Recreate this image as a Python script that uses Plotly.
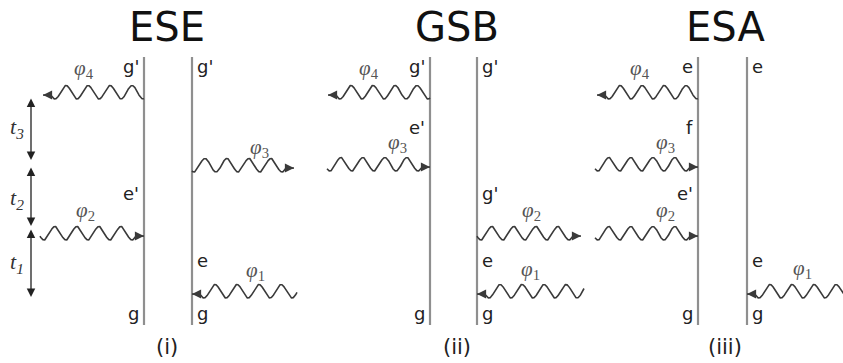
import numpy as np
import plotly.graph_objects as go

# ---------------- data ----------------
panel_titles = ["ESE", "GSB", "ESA"]
panel_captions = ["(i)", "(ii)", "(iii)"]
title_x = [167, 457, 725]
left_line_x = [144, 430, 698]
right_line_x = [192, 477, 747]
line_top = 57
line_bottom = 325

# level labels: (panel, side, y, text)
level_panel = [0, 0, 0, 0, 0, 0,
               1, 1, 1, 1, 1, 1, 1,
               2, 2, 2, 2, 2, 2, 2]
level_side = ["L", "L", "L", "R", "R", "R",
              "L", "L", "L", "R", "R", "R", "R",
              "L", "L", "L", "L", "R", "R", "R"]
level_y = [66, 193, 313, 66, 260, 313,
           66, 127, 313, 66, 193, 260, 313,
           66, 127, 193, 313, 66, 260, 313]
level_text = ["g'", "e'", "g", "g'", "e", "g",
              "g'", "e'", "g", "g'", "g'", "e", "g",
              "e", "f", "e'", "g", "e", "e", "g"]

# photons: panel, side, trough level, free-end x, incoming?, label, label x, label y
ph_panel = [0, 0, 0, 0, 1, 1, 1, 1, 2, 2, 2, 2]
ph_side = ["L", "L", "R", "R", "L", "L", "R", "R", "L", "L", "L", "R"]
ph_y = [99, 240, 172, 298, 99, 171, 240, 298, 99, 171, 240, 298]
ph_x_free = [43, 40, 294, 297, 328, 327, 581, 584, 597, 595, 595, 852]
ph_incoming = [False, True, False, True, False, True, False, True, False, True, True, True]
ph_label = ["4", "2", "3", "1", "4", "3", "2", "1", "4", "3", "2", "1"]
ph_label_x = [84, 85, 259, 255, 369, 397, 531, 530, 640, 665, 665, 802]
ph_label_y = [69, 211, 148, 271, 69, 143, 211, 270, 69, 143, 211, 269]

# time intervals (ESE panel)
t_labels = ["t<sub>3</sub>", "t<sub>2</sub>", "t<sub>1</sub>"]
t_x = 31
t_start = [97, 166, 228]
t_end = [160, 226, 297]
t_label_y = [128, 199, 263]

W, H = 843, 363
WAVE_COLOR = "#3a3a3a"
LINE_COLOR = "#8f8f8f"

fig = go.Figure()


def wave_points(x_arrow, x_other, y_trough, amp=6.75, period=22.0, straight=8.0, lift=4.0):
    length = abs(x_other - x_arrow)
    sgn = 1 if x_other > x_arrow else -1
    u = np.linspace(0, length, 600)
    phi0 = np.arccos(1 - lift / amp)
    phase = 2 * np.pi * (u - straight) / period - phi0
    osc = np.where(u < straight, -lift, -amp * (1 - np.cos(phase)))
    xs = x_arrow + sgn * u
    return xs, y_trough + osc


annotations = []

# vertical lines
for p in range(3):
    for lx in (left_line_x[p], right_line_x[p]):
        fig.add_trace(go.Scatter(x=[lx, lx], y=[line_top, line_bottom], mode="lines",
                                 line=dict(color=LINE_COLOR, width=2.2), hoverinfo="skip",
                                 showlegend=False))
    annotations.append(dict(x=title_x[p], y=27, text=panel_titles[p], showarrow=False,
                            font=dict(family="DejaVu Sans", size=40, color="#111"),
                            xanchor="center", yanchor="middle"))
    annotations.append(dict(x=title_x[p], y=347, text=panel_captions[p], showarrow=False,
                            font=dict(family="DejaVu Sans", size=21, color="#222"),
                            xanchor="center", yanchor="middle"))

# level labels
for p, s, y, t in zip(level_panel, level_side, level_y, level_text):
    if s == "L":
        annotations.append(dict(x=left_line_x[p] - 3, y=y, text=t, showarrow=False,
                                xanchor="right", yanchor="middle",
                                font=dict(family="DejaVu Sans", size=18, color="#222")))
    else:
        annotations.append(dict(x=right_line_x[p] + 3, y=y, text=t, showarrow=False,
                                xanchor="left", yanchor="middle",
                                font=dict(family="DejaVu Sans", size=18, color="#222")))

# photons
for i in range(len(ph_panel)):
    p = ph_panel[i]
    lx = left_line_x[p] if ph_side[i] == "L" else right_line_x[p]
    if ph_incoming[i]:
        xa, xo = lx, ph_x_free[i]
    else:
        xa, xo = ph_x_free[i], lx
    xs, ys = wave_points(xa, xo, ph_y[i])
    fig.add_trace(go.Scatter(x=xs, y=ys, mode="lines",
                             line=dict(color=WAVE_COLOR, width=1.6),
                             hoverinfo="skip", showlegend=False))
    d = 1 if xo > xa else -1
    ya = ys[0]
    annotations.append(dict(x=xa, y=ya, ax=xa + d * 7, ay=ya, xref="x", yref="y",
                            axref="x", ayref="y", text="", showarrow=True,
                            arrowhead=2, arrowsize=1.3, arrowwidth=1.4,
                            arrowcolor=WAVE_COLOR, standoff=0, startstandoff=0))
    annotations.append(dict(x=ph_label_x[i], y=ph_label_y[i],
                            text="<i>φ</i><sub>" + ph_label[i] + "</sub>", showarrow=False,
                            xanchor="center", yanchor="middle",
                            font=dict(family="Liberation Serif", size=21, color="#555")))

# time arrows
for lab, ys, ye, ly in zip(t_labels, t_start, t_end, t_label_y):
    annotations.append(dict(x=t_x, y=ye, ax=t_x, ay=ys, xref="x", yref="y",
                            axref="x", ayref="y", text="", showarrow=True,
                            arrowhead=2, startarrowhead=2, arrowside="end+start",
                            arrowsize=1.3, startarrowsize=1.3, arrowwidth=1.3,
                            arrowcolor="#222", standoff=0, startstandoff=0))
    annotations.append(dict(x=17, y=ly, text="<i>" + lab + "</i>", showarrow=False,
                            xanchor="center", yanchor="middle",
                            font=dict(family="Liberation Serif", size=22, color="#333")))

fig.update_layout(
    width=W, height=H, margin=dict(l=0, r=0, t=0, b=0),
    paper_bgcolor="white", plot_bgcolor="white",
    xaxis=dict(range=[0, W], visible=False, fixedrange=True),
    yaxis=dict(range=[H, 0], visible=False, fixedrange=True),
    annotations=annotations,
    showlegend=False,
)

fig.write_html("out.html")
